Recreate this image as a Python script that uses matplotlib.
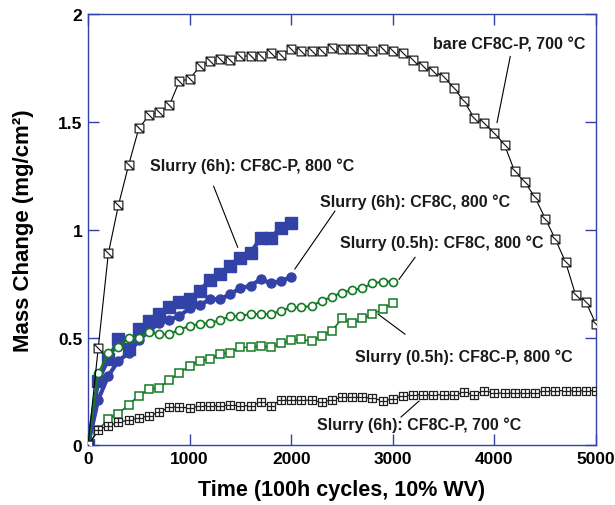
import numpy as np
import matplotlib
matplotlib.use("Agg")
import matplotlib.pyplot as plt
from matplotlib.path import Path

plt.rcParams['font.family'] = ['Liberation Sans', 'DejaVu Sans']
plt.rcParams['font.weight'] = 'bold'

# time axis (100h cycles)
t_5000 = np.arange(0, 5001, 100)
t_3000 = np.arange(0, 3001, 100)
t_2000 = np.arange(0, 2001, 100)

bare_700 = [0, 0.45, 0.89, 1.115, 1.30, 1.47, 1.53, 1.545, 1.576, 1.689, 1.698,
            1.757, 1.78, 1.79, 1.788, 1.805, 1.805, 1.805, 1.82, 1.81, 1.839,
            1.83, 1.83, 1.83, 1.84, 1.836, 1.836, 1.836, 1.828, 1.836, 1.828,
            1.82, 1.789, 1.758, 1.735, 1.709, 1.658, 1.596, 1.519, 1.493, 1.45,
            1.393, 1.27, 1.221, 1.15, 1.052, 0.956, 0.851, 0.697, 0.666, 0.5625]

slurry6_p_700 = [0, 0.072, 0.092, 0.107, 0.118, 0.127, 0.138, 0.154, 0.177, 0.18, 0.172,
                 0.184, 0.184, 0.184, 0.188, 0.184, 0.184, 0.2, 0.184, 0.21, 0.21,
                 0.21, 0.21, 0.2, 0.212, 0.223, 0.223, 0.223, 0.22, 0.207, 0.215,
                 0.231, 0.235, 0.235, 0.235, 0.235, 0.235, 0.246, 0.235, 0.254, 0.243,
                 0.243, 0.243, 0.243, 0.243, 0.254, 0.254, 0.254, 0.254, 0.254, 0.254]

slurry05_p_800 = [0, 0.07, 0.125, 0.148, 0.189, 0.231, 0.26, 0.268, 0.302, 0.336, 0.369,
                  0.393, 0.40, 0.424, 0.431, 0.455, 0.455, 0.462, 0.455, 0.473, 0.488,
                  0.493, 0.482, 0.508, 0.531, 0.589, 0.566, 0.589, 0.609, 0.632, 0.66]

slurry05_c_800 = [0, 0.334, 0.427, 0.455, 0.50, 0.50, 0.524, 0.516, 0.516, 0.536, 0.555,
                  0.5625, 0.567, 0.582, 0.598, 0.601, 0.609, 0.609, 0.609, 0.624, 0.64,
                  0.64, 0.647, 0.67, 0.689, 0.709, 0.72, 0.729, 0.751, 0.76, 0.76]

slurry6_c_800 = [0, 0.212, 0.323, 0.393, 0.428, 0.488, 0.532, 0.567, 0.582, 0.601, 0.635,
                 0.65, 0.678, 0.678, 0.701, 0.73, 0.74, 0.771, 0.752, 0.763, 0.781]

slurry6_p_800 = [0, 0.30, 0.40, 0.493, 0.447, 0.539, 0.578, 0.609, 0.64, 0.666, 0.681,
                 0.717, 0.768, 0.794, 0.83, 0.867, 0.894, 0.96, 0.964, 1.01, 1.033]

blue = '#3342a6'
green = '#137a25'

# square with one diagonal, square with a cross
M, L, C = Path.MOVETO, Path.LINETO, Path.CLOSEPOLY
sq_diag = Path([(-1, -1), (1, -1), (1, 1), (-1, 1), (-1, -1), (-1, 1), (1, -1)],
               [M, L, L, L, C, M, L])
sq_cross = Path([(-1, -1), (1, -1), (1, 1), (-1, 1), (-1, -1), (0, -1), (0, 1), (-1, 0), (1, 0)],
                [M, L, L, L, C, M, L, M, L])

fig = plt.figure(figsize=(6.15, 5.06), dpi=100)
ax = fig.add_axes([0.1431, 0.1176, 0.8260, 0.8528])

ax.plot(t_2000, slurry6_p_800, color=blue, lw=3, marker='s', ms=8.5,
        mfc=blue, mec=blue, zorder=3)
ax.plot(t_2000, slurry6_c_800, color=blue, lw=3, marker='o', ms=6.5,
        mfc=blue, mec=blue, zorder=3)
ax.plot(t_3000, slurry05_c_800, color=green, lw=1.5, marker='o', ms=5.8,
        mfc='white', mec=green, mew=1.2, zorder=4)
ax.plot(t_3000, slurry05_p_800, color=green, lw=1.2, marker='s', ms=6,
        mfc='white', mec=green, mew=1.1, zorder=4)
ax.plot(t_5000, slurry6_p_700, color='black', lw=0.8, marker=sq_cross, ms=5.8,
        mfc='white', mec='#222222', mew=0.9, zorder=5)
ax.plot(t_5000, bare_700, color='black', lw=0.8, marker=sq_diag, ms=6.3,
        mfc='white', mec='#222222', mew=0.9, zorder=5)

ax.set_xlim(0, 5000)
ax.set_ylim(0, 2)
ax.set_xticks(np.arange(0, 5001, 1000))
ax.set_yticks([0, 0.5, 1, 1.5, 2])
ax.set_yticklabels(['0', '0.5', '1', '1.5', '2'])
ax.tick_params(direction='in', length=8, width=1, color=blue, top=True, right=True,
               labelsize=12.5, pad=4)
for lab in ax.get_xticklabels() + ax.get_yticklabels():
    lab.set_fontweight('bold')
for s in ax.spines.values():
    s.set_color(blue)
    s.set_linewidth(1)

ax.set_xlabel('Time (100h cycles, 10% WV)', fontsize=15.5, fontweight='bold', labelpad=9)
ax.set_ylabel('Mass Change (mg/cm²)', fontsize=16, fontweight='bold', labelpad=17)

notes = [
    ('bare CF8C-P, 700 °C', (3396, 1.859), (4156, 1.803), (4026, 1.497)),
    ('Slurry (6h): CF8C-P, 800 °C', (606, 1.299), (1237, 1.201), (1473, 0.919)),
    ('Slurry (6h): CF8C, 800 °C', (2282, 1.132), (2430, 1.086), (2036, 0.818)),
    ('Slurry (0.5h): CF8C, 800 °C', (2479, 0.942), (3219, 0.872), (3061, 0.77)),
    ('Slurry (0.5h): CF8C-P, 800 °C', (2626, 0.416), (2854, 0.609), (3120, 0.516)),
    ('Slurry (6h): CF8C-P, 700 °C', (2250, 0.0995), (3081, 0.132), (3258, 0.206)),
]
for txt, tpos, p0, p1 in notes:
    ax.text(tpos[0], tpos[1], txt, fontsize=11.5, fontweight='bold', va='center',
            ha='left', color='#1a1a1a', zorder=6)
    ax.plot([p0[0], p1[0]], [p0[1], p1[1]], color='black', lw=0.8, zorder=6)

fig.savefig('out.png', dpi=100)
